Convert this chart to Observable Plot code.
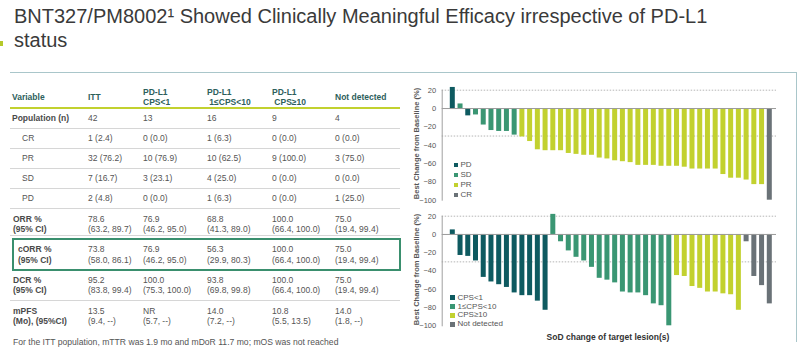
<!DOCTYPE html>
<html><head><meta charset="utf-8">
<script src="https://cdn.jsdelivr.net/npm/d3@7"></script>
<script src="https://cdn.jsdelivr.net/npm/@observablehq/plot@0.6"></script>
<style>
html,body{margin:0;padding:0;background:#fff;}
#slide{position:relative;width:800px;height:351px;overflow:hidden;font-family:"Liberation Sans",Arial,sans-serif;}
.t{position:absolute;white-space:pre;}
.abs{position:absolute;}
svg{position:absolute;overflow:visible;}
</style></head>
<body><div id="slide"></div>
<script>
// ---------- DATA ----------
const titleLines = ["BNT327/PM8002\u00B9 Showed Clinically Meaningful Efficacy irrespective of PD-L1", "status"];
const tableColumns = ["Variable", "ITT", "PD-L1|CPS<1", "PD-L1| 1\u2264CPS<10", "PD-L1| CPS\u226510", "Not detected"];
const populationRow = ["Population (n)", "42", "13", "16", "9", "4"];
const responseRows = [
  ["CR", "1 (2.4)", "0 (0.0)", "1 (6.3)", "0 (0.0)", "0 (0.0)"],
  ["PR", "32 (76.2)", "10 (76.9)", "10 (62.5)", "9 (100.0)", "3 (75.0)"],
  ["SD", "7 (16.7)", "3 (23.1)", "4 (25.0)", "0 (0.0)", "0 (0.0)"],
  ["PD", "2 (4.8)", "0 (0.0)", "1 (6.3)", "0 (0.0)", "1 (25.0)"]
];
const orrRow = ["ORR %|(95% CI)", "78.6|(63.2, 89.7)", "76.9|(46.2, 95.0)", "68.8|(41.3, 89.0)", "100.0|(66.4, 100.0)", "75.0|(19.4, 99.4)"];
const corrRow = ["cORR %|(95% CI)", "73.8|(58.0, 86.1)", "76.9|(46.2, 95.0)", "56.3|(29.9, 80.3)", "100.0|(66.4, 100.0)", "75.0|(19.4, 99.4)"];
const dcrRow = ["DCR %|(95% CI)", "95.2|(83.8, 99.4)", "100.0|(75.3, 100.0)", "93.8|(69.8, 99.8)", "100.0|(66.4, 100.0)", "75.0|(19.4, 99.4)"];
const mpfsRow = ["mPFS|(Mo), (95%CI)", "13.5|(9.4, --)", "NR|(5.7, --)", "14.0|(7.2, --)", "10.8|(5.5, 13.5)", "14.0|(1.8, --)"];
const footnote = "For the ITT population, mTTR was 1.9 mo and mDoR 11.7 mo; mOS was not reached";

const responseCats = ["PD", "SD", "PR", "CR"];
const topResponse = ["PD","SD","PD","SD","SD","SD","SD","SD","SD",
  "PR","PR","PR","PR","PR","PR","PR","PR","PR","PR","PR","PR","PR","PR","PR","PR",
  "PR","PR","PR","PR","PR","PR","PR","PR","PR","PR","PR","PR","PR","PR","PR","PR","CR"];
const topValues = [23, 5, -8, -7, -18, -24, -25, -25, -29,
  -31, -36, -45, -46, -46, -46, -49, -50, -51, -51, -54, -55, -57, -58, -59, -62,
  -62, -62, -63, -63, -63, -64, -66, -66, -66, -66, -72, -76, -76, -78, -83, -83, -100];

const groupCats = ["CPS<1", "1\u2264CPS<10", "CPS\u226510", "Not detected"];
const cpsLt1 = [5, -23, -24, -29, -47, -52, -55, -58, -64, -67, -67, -73, -83];
const cps1to10 = [22, -8, -18, -25, -29, -36, -48, -50, -53, -63, -64, -64, -67, -76, -78, -100];
const cpsGe10 = [-45, -46, -57, -59, -63, -63, -65, -66, -83];
const notDetected = [-8, -46, -56, -76];

const yTicks = [20, 0, -20, -40, -60, -80, -100];
const refLines = [20, -30];
const yLabel = "Best Change from Baseline (%)";
const xLabel = "SoD change of target lesion(s)";
const palette = ["#0e5a60", "#3a9673", "#c2d12f", "#6a7277"];

// ---------- LAYOUT HELPERS ----------
const slide = document.getElementById("slide");
function txt(s, x, yc, o = {}) {
  const d = document.createElement("div");
  d.className = "t";
  const fs = o.fs || 8.5, lh = o.lh || 10;
  d.style.left = x + "px";
  d.style.top = (yc - lh / 2) + "px";
  d.style.fontSize = fs + "px";
  d.style.lineHeight = lh + "px";
  d.style.color = o.color || "#555";
  if (o.bold) d.style.fontWeight = "bold";
  if (o.css) Object.assign(d.style, o.css);
  d.textContent = s;
  slide.appendChild(d);
  return d;
}
function box(x, y, w, h, css) {
  const d = document.createElement("div");
  d.className = "abs";
  Object.assign(d.style, {left: x + "px", top: y + "px", width: w + "px", height: h + "px"}, css);
  slide.appendChild(d);
  return d;
}

// ---------- TITLE ----------
txt(titleLines[0], 14, 16, {fs: 20, lh: 24, color: "#3a3a3a"});
txt(titleLines[1], 14, 40, {fs: 20, lh: 24, color: "#3a3a3a"});
box(0, 41, 3, 5, {background: "#b5c92a"});

// frame lines
box(10, 72, 787, 0, {borderTop: "1.5px solid #a9c6ca"});
box(795.5, 72, 0, 270, {borderLeft: "1.5px solid #a9c6ca"});

// ---------- TABLE ----------
const colX = [12, 88, 143, 207, 272, 335];
const headColor = "#2d605c";
tableColumns.forEach((c, i) => {
  const parts = c.split("|");
  if (parts.length === 1) txt(parts[0], colX[i], 97, {bold: true, color: headColor});
  else {
    txt(parts[0], colX[i], 91.5, {bold: true, color: headColor});
    txt(parts[1], colX[i], 102, {bold: true, color: headColor});
  }
});
box(10, 106.5, 390, 0, {borderTop: "2px solid #c2d12f"});

function sep(y) { box(10, y, 390, 0, {borderTop: "1.2px solid #d6d6d6"}); }
populationRow.forEach((v, i) => txt(v, colX[i], 118, {bold: i === 0, color: i === 0 ? "#4a4a4a" : "#555"}));
sep(127.5);
responseRows.forEach((row, r) => {
  const yc = 138 + r * 20;
  row.forEach((v, i) => txt(v, i === 0 ? 22 : colX[i], yc));
  sep(yc + 9.5);
});
function doubleRow(row, y1, y2, labelX) {
  row.forEach((v, i) => {
    const [a, b] = v.split("|");
    const o = i === 0 ? {bold: true, color: "#4a4a4a"} : {};
    txt(a, i === 0 ? labelX : colX[i], y1, o);
    txt(b, i === 0 ? labelX : colX[i], y2, o);
  });
}
doubleRow(orrRow, 218.5, 228.5, 13);
sep(235);
doubleRow(corrRow, 249, 259.5, 18);
box(12, 237.5, 385, 29, {border: "2px solid #3a8f6e"});
doubleRow(dcrRow, 280, 290, 13);
sep(300);
doubleRow(mpfsRow, 310.5, 321, 13);
txt(footnote, 13, 342, {fs: 8.6});

// ---------- CHARTS ----------
const tickStyle = {fontSize: "7.5px", fontFamily: "'Liberation Sans',Arial,sans-serif", color: "#555", background: "transparent"};
function waterfall(data, colorDomain, height, marginTop, marginBottom) {
  return Plot.plot({
    width: 405, height,
    marginLeft: 46.7, marginRight: 24, marginTop, marginBottom,
    style: tickStyle,
    x: {type: "band", domain: d3.range(data.length), range: [54.8, 376.8], paddingInner: 0.353, paddingOuter: 0, axis: null},
    y: {domain: [-100, 20], ticks: yTicks, tickSize: 0, tickPadding: 6, label: null},
    color: {domain: colorDomain, range: palette},
    marks: [
      Plot.ruleY(refLines, {stroke: "#b5b5b5", strokeDasharray: "1.5,1.5"}),
      Plot.barY(data, {x: "i", y1: () => 0, y2: "v", fill: "c"}),
      Plot.ruleY([0], {stroke: "#9a9a9a", strokeWidth: 1}),
      Plot.frame({anchor: "left", stroke: "#a0a0a0"})
    ]
  });
}
const topData = topValues.map((v, i) => ({i, v, c: topResponse[i]}));
const bottomData = [];
[cpsLt1, cps1to10, cpsGe10, notDetected].forEach((arr, g) => arr.forEach(v => bottomData.push({i: bottomData.length, v, c: groupCats[g]})));

const topChart = waterfall(topData, responseCats, 130, 11.7, 8.3);
topChart.style.left = "395px"; topChart.style.top = "78px";
slide.appendChild(topChart);
const botChart = waterfall(bottomData, groupCats, 125, 10.7, 4.7);
botChart.style.left = "395px"; botChart.style.top = "205px";
slide.appendChild(botChart);

// y labels (rotated)
function vlabel(s, xc, yc) {
  const d = txt(s, xc, yc, {fs: 7.5, lh: 9, bold: true, color: "#555"});
  d.style.transform = "translate(-50%,0) rotate(-90deg)";
  d.style.transformOrigin = "50% 50%";
}
vlabel(yLabel, 416, 143);
vlabel(yLabel, 415.5, 269);
txt(xLabel, 608, 337, {fs: 8.5, bold: true, color: "#333", css: {transform: "translateX(-50%)"}});

// legends
function legend(cats, x, y0, dy, sq) {
  cats.forEach((c, k) => {
    const yc = y0 + k * dy;
    box(x, yc - sq / 2, sq, sq, {background: palette[k]});
    txt(c, x + sq + 2.5, yc, {fs: 8, color: "#555"});
  });
}
legend(responseCats, 453.5, 165, 10, 4.5);
legend(groupCats, 450, 297.7, 8.8, 5);
</script>
</body></html>
